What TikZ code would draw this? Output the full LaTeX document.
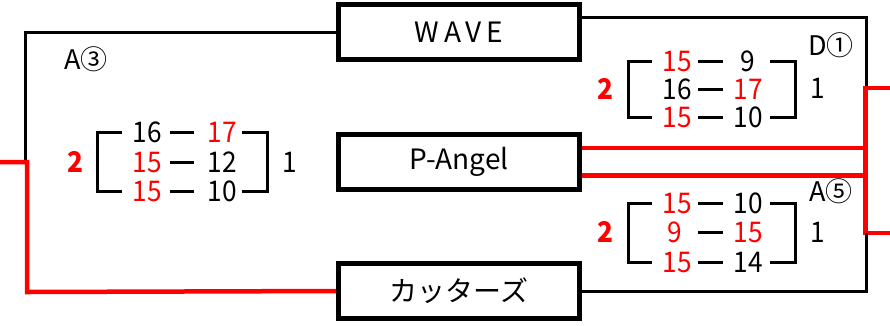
\documentclass[tikz,border=0pt]{standalone}
\usepackage{fontspec}
\setmainfont{Noto Sans CJK JP}
\newfontfamily\narrowfont[FakeStretch=0.92]{Noto Sans CJK JP}
\definecolor{rd}{RGB}{255,0,0}
\begin{document}
\begin{tikzpicture}[x=1pt,y=-1pt,
  team/.style={draw,line width=5pt,minimum width=241pt,minimum height=55pt,inner sep=0pt,font=\fontsize{28}{28}\selectfont},
  sc/.style={inner sep=0pt,text height=20pt,text depth=0pt,font=\narrowfont\fontsize{28.5}{28.5}\selectfont},
  win/.style={sc,text=rd},
  big/.style={sc,text=rd,font=\narrowfont\fontsize{28.5}{28.5}\selectfont\bfseries},
  lab/.style={inner sep=0pt,font=\fontsize{27}{27}\selectfont},
  blk/.style={line width=3pt},
  redl/.style={line width=4.5pt,rd},
  brk/.style={line width=3pt},
  dsh/.style={line width=3pt}]
\useasboundingbox (0,0) rectangle (890,325);
% team boxes
\node[team] (wave) at (459,32) {W\,A\,V\,E};
\node[team] (pangel) at (459,161.5) {P-Angel};
\node[team] (kat) at (459,291) {カッターズ};
% coordinates
\coordinate (lt) at (25,160);
\coordinate (lin) at (0,162);
\coordinate (rt) at (890,88);
\coordinate (rb) at (890,233);
% left connectors
\draw[blk] (wave.west) -| (lt);
\draw[redl] (lin) -| (27,292) -- (kat.west);
% right connectors
\draw[blk] ([yshift=15pt]wave.east) -| (866,145);
\draw[redl] ([yshift=-14pt]pangel.east) -| (865.5,88) -- (rt);
\draw[redl] ([yshift=13.5pt]pangel.east) -| (865.5,233) -- (rb);
\draw[blk] ([yshift=-0.5pt]kat.east) -| (866,233);
% labels
\node[lab] (a3) at (86,59) {A③};
\node[lab] (d1) at (831,45) {D①};
\node[lab] (a5) at (831,191) {A⑤};
% left score block
\node[big] (ls2) at (75,162) {2};
\node[sc] (ls1) at (290,162) {1};
\draw[brk] (122,132) -- (97,132) -- (97,191) -- (122,191);
\draw[brk] (242,132) -- (267,132) -- (267,191) -- (242,191);
\node[sc]  (l11) at (147,132) {16};
\node[win] (l12) at (222,132) {17};
\node[win] (l21) at (147,162) {15};
\node[sc]  (l22) at (222,162) {12};
\node[win] (l31) at (147,191) {15};
\node[sc]  (l32) at (222,191) {10};
\foreach \y in {132,162,191} \draw[dsh] (170,\y) -- (194,\y);
% right top block
\node[big] (ts2) at (605,89) {2};
\node[sc] (ts1) at (818,88) {1};
\draw[brk] (652,61) -- (628,61) -- (628,117) -- (652,117);
\draw[brk] (770,61) -- (795,61) -- (795,117) -- (770,117);
\node[win] (t11) at (677,61) {15};
\node[sc]  (t12) at (748,61) {9};
\node[sc]  (t21) at (677,89) {16};
\node[win] (t22) at (748,89) {17};
\node[win] (t31) at (677,117) {15};
\node[sc]  (t32) at (748,117) {10};
\foreach \y in {61,89,117} \draw[dsh] (698,\y) -- (723,\y);
% right bottom block
\node[big] (bs2) at (605,232) {2};
\node[sc] (bs1) at (818,232) {1};
\draw[brk] (652,203) -- (628,203) -- (628,262) -- (652,262);
\draw[brk] (770,203) -- (795,203) -- (795,262) -- (770,262);
\node[win] (b11) at (677,203) {15};
\node[sc]  (b12) at (748,203) {10};
\node[win] (b21) at (675,232) {9};
\node[win] (b22) at (748,232) {15};
\node[win] (b31) at (677,262) {15};
\node[sc]  (b32) at (748,262) {14};
\foreach \y in {203,232,262} \draw[dsh] (698,\y) -- (723,\y);
\end{tikzpicture}
\end{document}
